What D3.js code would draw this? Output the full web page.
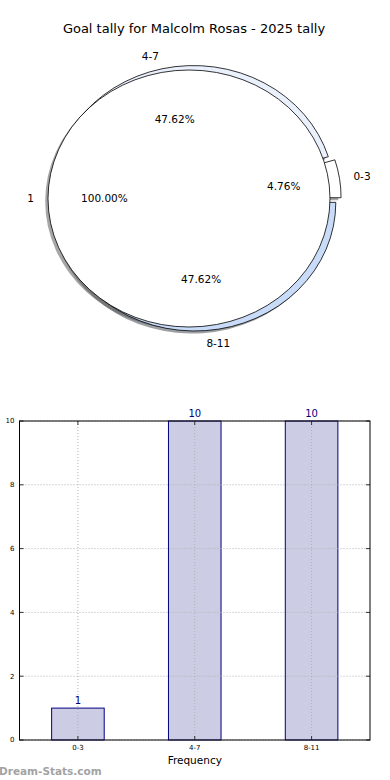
<!DOCTYPE html>
<html><head><meta charset="utf-8">
<script src="https://cdn.jsdelivr.net/npm/d3@7/dist/d3.min.js"></script>
<style>
html,body{margin:0;padding:0;background:#fff;}
svg{display:block;font-family:"DejaVu Sans",sans-serif;}
</style></head>
<body>
<script>
// ---- data ----
const titleText = "Goal tally for Malcolm Rosas - 2025 tally";
const outerCats = ["0-3", "4-7", "8-11"];
const outerValues = [1, 10, 10];
const innerCats = ["1"];
const innerValues = [21];
const barCats = ["0-3", "4-7", "8-11"];
const barValues = [1, 10, 10];
const yTicks = [0, 2, 4, 6, 8, 10];
const xLabel = "Frequency";
const yLabel = "Occurrences";
const watermark = "Dream-Stats.com";

const W = 390, H = 780;
const svg = d3.select("body").append("svg").attr("width", W).attr("height", H);

// title
svg.append("text").attr("x", 194).attr("y", 33).attr("text-anchor", "middle")
  .attr("font-size", 13).attr("fill", "#000").text(titleText);

// ---- pie ----
const cx = 189, cy = 198.5, rx = 141, ry = 128.5;
const outerOffset = 0.039; // outer ring centre sits slightly right of the inner pie
const px = d3.scaleLinear().domain([-1, 1]).range([cx - rx, cx + rx]);
const py = d3.scaleLinear().domain([-1, 1]).range([cy + ry, cy - ry]);
const outerColors = ["#ffffff", "#eaf1fd", "#c8dcf9"];
const explode = [0.04, 0.031, 0.03];
const deg = Math.PI / 180;

function slices(values) {
  const total = d3.sum(values);
  let acc = 0;
  return values.map((v, i) => {
    const t1 = acc / total * 360; acc += v; const t2 = acc / total * 360;
    return { i, v, t1, t2, mid: (t1 + t2) / 2, frac: v / total };
  });
}
const arcUnit = d3.arc().innerRadius(0).outerRadius(1);
function arcPath(s) {
  return arcUnit({ startAngle: (90 - s.t2) * deg, endAngle: (90 - s.t1) * deg });
}
const pieG = svg.append("g").attr("transform", `translate(${cx},${cy}) scale(${rx},${ry})`);
const outerS = slices(outerValues);
const innerS = slices(innerValues);
function shade(c) {
  const r = d3.rgb(c); return d3.rgb(r.r * 0.3, r.g * 0.3, r.b * 0.3).toString();
}
function offs(s) {
  const e = explode[s.i];
  return [outerOffset + e * Math.cos(s.mid * deg), -e * Math.sin(s.mid * deg)];
}
// shadows
outerS.forEach(s => {
  const [dx, dy] = offs(s);
  pieG.append("path").attr("d", arcPath(s))
    .attr("transform", `translate(${dx - 0.02},${dy + 0.02})`)
    .attr("fill", shade(outerColors[s.i])).attr("fill-opacity", 0.5);
});
innerS.forEach(s => {
  pieG.append("path").attr("d", "M1,0A1,1 0 1 1 -1,0A1,1 0 1 1 1,0Z")
    .attr("transform", `translate(${-0.02},${0.02})`)
    .attr("fill", shade("#ffffff")).attr("fill-opacity", 0.5);
});
// outer wedges
outerS.forEach(s => {
  const [dx, dy] = offs(s);
  pieG.append("path").attr("d", arcPath(s))
    .attr("transform", `translate(${dx},${dy})`)
    .attr("fill", outerColors[s.i]).attr("stroke", "#000").attr("stroke-width", 0.8)
    .attr("vector-effect", "non-scaling-stroke").attr("stroke-linejoin", "round");
});
// inner wedge
innerS.forEach(s => {
  pieG.append("path").attr("d", "M1,0A1,1 0 1 1 -1,0A1,1 0 1 1 1,0Z")
    .attr("fill", "#ffffff").attr("stroke", "#000").attr("stroke-width", 0.8)
    .attr("vector-effect", "non-scaling-stroke");
});
// labels
function pieLabels(S, cats, expl, off) {
  S.forEach(s => {
    const e = expl ? expl[s.i] : 0;
    const c = Math.cos(s.mid * deg), sn = Math.sin(s.mid * deg);
    const lx = (1.1 + e) * c, ly = (1.1 + e) * sn;
    svg.append("text").attr("x", px(off + lx)).attr("y", py(ly)).attr("dy", "0.35em")
      .attr("text-anchor", lx > 0 ? "start" : "end").attr("font-size", 10.5)
      .attr("fill", "#000").text(cats[s.i]);
    const qx = (0.6 + e) * c, qy = (0.6 + e) * sn;
    svg.append("text").attr("x", px(off + qx)).attr("y", py(qy)).attr("dy", "0.35em")
      .attr("text-anchor", "middle").attr("font-size", 10.5)
      .attr("fill", "#000").text((s.frac * 100).toFixed(2) + "%");
  });
}
pieLabels(outerS, outerCats, explode, outerOffset);
pieLabels(innerS, innerCats, null, 0);

// ---- bar chart ----
const L = 19.5, R = 370, T = 421, B = 740;
const x = d3.scaleLinear().domain([-0.5, barCats.length - 0.5]).range([L, R]);
const y = d3.scaleLinear().domain([0, 10]).range([B, T]);
const bw = 0.45;
svg.append("g").selectAll("rect").data(barValues).join("rect")
  .attr("x", (d, i) => x(i - bw / 2)).attr("width", x(bw) - x(0))
  .attr("y", d => y(d)).attr("height", d => y(0) - y(d))
  .attr("fill", "#ccccE5").attr("stroke", "#000080").attr("stroke-width", 1);
// grid
const grid = svg.append("g").attr("stroke", "#b0b0b0").attr("stroke-dasharray", "1,2").attr("stroke-width", 1);
yTicks.forEach(t => grid.append("line").attr("x1", L).attr("x2", R).attr("y1", y(t)).attr("y2", y(t)));
barCats.forEach((c, i) => grid.append("line").attr("x1", x(i)).attr("x2", x(i)).attr("y1", T).attr("y2", B));
// ticks (inside, all sides)
const tk = svg.append("g").attr("stroke", "#333").attr("stroke-width", 1);
yTicks.forEach(t => {
  tk.append("line").attr("x1", L).attr("x2", L + 4).attr("y1", y(t)).attr("y2", y(t));
  tk.append("line").attr("x1", R).attr("x2", R - 4).attr("y1", y(t)).attr("y2", y(t));
});
barCats.forEach((c, i) => {
  tk.append("line").attr("x1", x(i)).attr("x2", x(i)).attr("y1", B).attr("y2", B - 4);
  tk.append("line").attr("x1", x(i)).attr("x2", x(i)).attr("y1", T).attr("y2", T + 4);
});
// frame
svg.append("rect").attr("x", L).attr("y", T).attr("width", R - L).attr("height", B - T)
  .attr("fill", "none").attr("stroke", "#000").attr("stroke-width", 1);
// tick labels
yTicks.forEach(t => svg.append("text").attr("x", L - 5).attr("y", y(t)).attr("dy", "0.35em")
  .attr("text-anchor", "end").attr("font-size", 7).text(t));
barCats.forEach((c, i) => svg.append("text").attr("x", x(i)).attr("y", B + 10)
  .attr("text-anchor", "middle").attr("font-size", 7).text(c));
// value labels
barValues.forEach((v, i) => svg.append("text").attr("x", x(i)).attr("y", y(v) - 4)
  .attr("text-anchor", "middle").attr("font-size", 10).attr("fill", "#000080").text(v));
// axis labels
svg.append("text").attr("x", (L + R) / 2).attr("y", 764).attr("text-anchor", "middle")
  .attr("font-size", 10.5).text(xLabel);
svg.append("text").attr("transform", `translate(-1,${(T + B) / 2}) rotate(-90)`)
  .attr("text-anchor", "middle").attr("font-size", 10).text(yLabel);
// watermark
svg.append("text").attr("x", -1).attr("y", 775).attr("font-size", 10.5).attr("font-weight", "bold")
  .attr("fill", "#a3a3a3").text(watermark);
</script>
</body></html>
